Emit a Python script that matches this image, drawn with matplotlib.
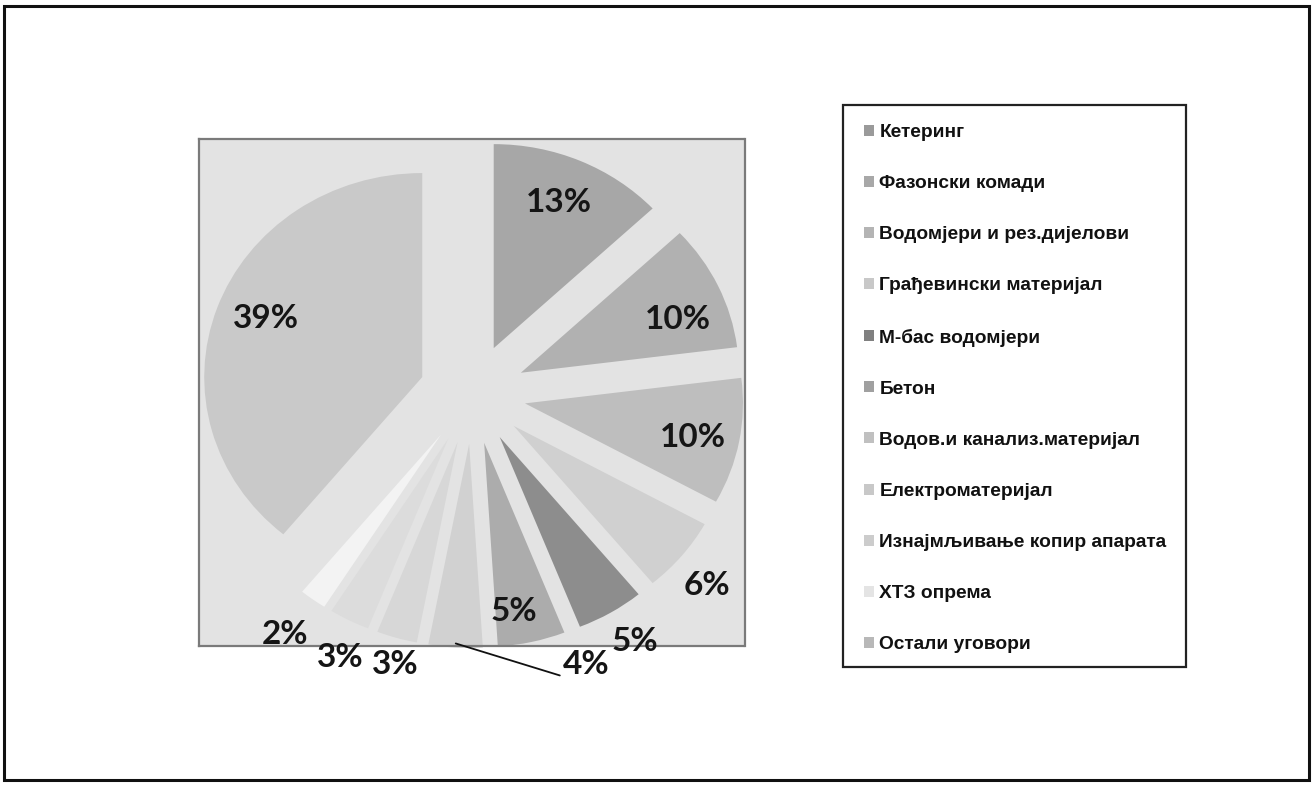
import numpy as np
import matplotlib
matplotlib.use("Agg")
import matplotlib.pyplot as plt
from matplotlib.patches import Rectangle

# ---- data ----
categories = ["Кетеринг", "Фазонски комади", "Водомјери и рез.дијелови",
              "Грађевински материјал", "М-бас водомјери", "Бетон",
              "Водов.и канализ.материјал", "Електроматеријал",
              "Изнајмљивање копир апарата", "ХТЗ опрема", "Остали уговори"]
shares = [13, 10, 10, 6, 5, 5, 4, 3, 3, 2, 39]
pct_labels = ["13%", "10%", "10%", "6%", "5%", "5%", "4%", "3%", "3%", "2%", "39%"]

# ---- styling ----
slice_colors = ["#a7a7a7", "#b1b1b1", "#bebebe", "#d0d0d0", "#8d8d8d", "#acacac",
                "#d1d1d1", "#d7d7d7", "#dcdcdc", "#f3f3f3", "#c9c9c9"]
legend_colors = ["#9a9a9a", "#a8a8a8", "#b4b4b4", "#c8c8c8", "#808080", "#a0a0a0",
                 "#c0c0c0", "#c8c8c8", "#cccccc", "#e4e4e4", "#b8b8b8"]
explode_amt = 0.245
label_angle = [67.3, 21.8, -11.2, -40.7, -58.2, -79.8, -68.4, -105.2, -115.4, -126.4, 158.0]
label_dist = [1.03, 1.015, 1.031, 1.42, 1.413, 1.071, 1.413, 1.36, 1.416, 1.45, 1.02]

W, H = 1312, 785
fig = plt.figure(figsize=(W / 100, H / 100), dpi=100)
fig.patch.set_facecolor("white")

# plot area in pixel coords
px_l, px_r, px_t, px_b = 199, 745, 139, 646
ax = fig.add_axes([px_l / W, 1 - px_b / H, (px_r - px_l) / W, (px_b - px_t) / H])

wedges, _ = ax.pie(shares, colors=slice_colors, startangle=90, counterclock=False,
                   explode=[explode_amt] * len(shares), radius=1.0,
                   wedgeprops=dict(linewidth=0))
ax.set_aspect("auto")
ax.set_xlim(-1.2546, 1.25)
ax.set_ylim(-1.235, 1.25)
ax.set_frame_on(True)
ax.set_facecolor("#e3e3e3")
for sp in ax.spines.values():
    sp.set_visible(True)
    sp.set_color("#7a7a7a")
    sp.set_linewidth(1.6)
    sp.set_linestyle((0, (1, 1)))
ax.set_xticks([])
ax.set_yticks([])

lab_font = dict(family=["Lato", "DejaVu Sans"], fontweight="bold", fontsize=24, color="#151515")

cum = np.cumsum([0] + shares)
for i, txt in enumerate(pct_labels):
    a = np.deg2rad(label_angle[i])
    x, y = label_dist[i] * np.cos(a), label_dist[i] * np.sin(a)
    if i == 6:
        mid = np.deg2rad(90 - 3.6 * (cum[i] + cum[i + 1]) / 2)
        ox, oy = explode_amt * np.cos(mid), explode_amt * np.sin(mid)
        sx, sy = ox + 0.98 * np.cos(mid), oy + 0.98 * np.sin(mid)
        ax.annotate(txt, xy=(sx, sy), xytext=(x, y), ha="center", va="center_baseline",
                    annotation_clip=False,
                    arrowprops=dict(arrowstyle="-", color="#111111", lw=1.3,
                                    relpos=(-0.05, 0.12), shrinkA=0, shrinkB=0),
                    **lab_font)
    else:
        ax.text(x, y, txt, ha="center", va="center_baseline", clip_on=False, **lab_font)

# legend
handles = [Rectangle((0, 0), 1, 1, facecolor=c, edgecolor="none") for c in legend_colors]
leg = fig.legend(handles, categories, loc="upper left",
                 bbox_to_anchor=(864 / W, 1 - 124 / H), frameon=False,
                 borderpad=0, borderaxespad=0, handlelength=0.5, handleheight=0.5,
                 handletextpad=0.3, labelspacing=1.78,
                 prop=dict(family=["Liberation Sans", "DejaVu Sans"], weight="bold", size=13.8))
for t in leg.get_texts():
    t.set_color("#111111")

# legend box
fig.add_artist(Rectangle((843 / W, 1 - 667 / H), (1186 - 843) / W, (667 - 105) / H,
                         transform=fig.transFigure, fill=False, edgecolor="#222222", lw=1.6))
# outer frame
fig.add_artist(Rectangle((4 / W, 1 - 780 / H), (1309 - 4) / W, (780 - 6) / H,
                         transform=fig.transFigure, fill=False, edgecolor="#111111", lw=2.2))

fig.savefig("out.png", dpi=100)
